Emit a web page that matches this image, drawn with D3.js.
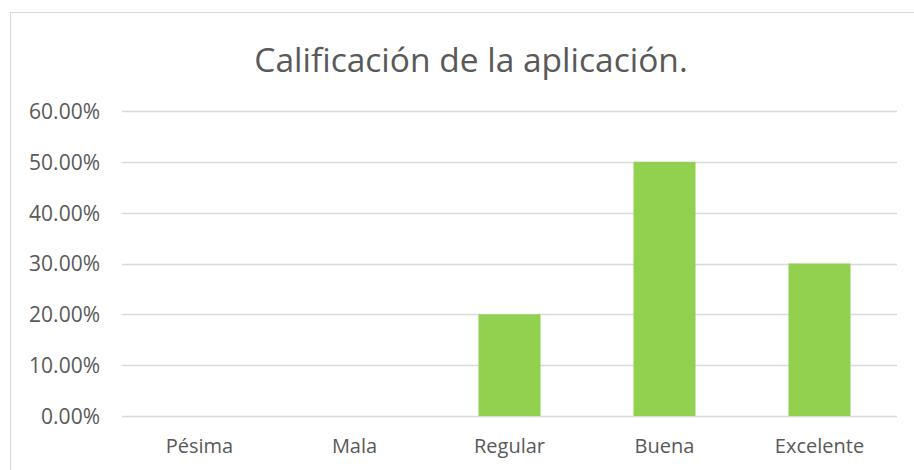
<!DOCTYPE html>
<html>
<head>
<meta charset="utf-8">
<script src="https://cdn.jsdelivr.net/npm/d3@7"></script>
<style>
body { margin: 0; background: #fff; }
svg text { font-family: "Open Sans", sans-serif; fill: #595959; }
</style>
</head>
<body>
<script>
var categories = ["Pésima", "Mala", "Regular", "Buena", "Excelente"];
var values = [0, 0, 0.20, 0.50, 0.30];
var yTicks = [0, 0.1, 0.2, 0.3, 0.4, 0.5, 0.6];
var title = "Calificación de la aplicación.";

var width = 914, height = 470;
var plotLeft = 122, plotRight = 897, plotTop = 111, plotBottom = 416;

var svg = d3.select("body").append("svg")
    .attr("width", width)
    .attr("height", height);

//chart border, runs off the right and bottom edges
svg.append("rect")
    .attr("x", 10.5)
    .attr("y", 12.5)
    .attr("width", 940)
    .attr("height", 480)
    .attr("fill", "#fff")
    .attr("stroke", "#d9d9d9")
    .attr("stroke-width", 1);

var x = d3.scaleBand()
    .domain(categories)
    .range([plotLeft, plotRight])
    .paddingInner(0.6)
    .paddingOuter(0.3);

var y = d3.scaleLinear()
    .domain([0, 0.6])
    .range([plotBottom, plotTop]);

//gridlines
svg.append("g")
    .selectAll("line")
    .data(yTicks)
    .enter()
    .append("line")
    .attr("x1", plotLeft)
    .attr("x2", plotRight)
    .attr("y1", function(d){ return Math.round(y(d)) + 0.5; })
    .attr("y2", function(d){ return Math.round(y(d)) + 0.5; })
    .attr("stroke", "#d9d9d9")
    .attr("stroke-width", 1.3);

//bars
svg.append("g")
    .selectAll("rect")
    .data(values)
    .enter()
    .append("rect")
    .attr("x", function(d, i){ return x(categories[i]); })
    .attr("width", x.bandwidth())
    .attr("y", function(d){ return y(d); })
    .attr("height", function(d){ return y(0) - y(d); })
    .attr("fill", "#92d050");

//y axis labels
var yAxis = d3.axisLeft(y)
    .tickValues(yTicks)
    .tickFormat(function(d){ return (d * 100).toFixed(2) + "%"; })
    .tickSize(0)
    .tickPadding(22);

var gy = svg.append("g")
    .attr("transform", "translate(" + plotLeft + ",0)")
    .call(yAxis);
gy.select(".domain").remove();
gy.selectAll("text")
    .style("font-size", "21px")
    .attr("dy", "0.35em");

//x axis labels
var xAxis = d3.axisBottom(x)
    .tickSize(0)
    .tickPadding(23);

var gx = svg.append("g")
    .attr("transform", "translate(0," + plotBottom + ")")
    .call(xAxis);
gx.select(".domain").remove();
gx.selectAll("text")
    .style("font-size", "20px");

//title
svg.append("text")
    .attr("x", 471)
    .attr("y", 72)
    .attr("text-anchor", "middle")
    .style("font-size", "33.5px")
    .text(title);
</script>
</body>
</html>
